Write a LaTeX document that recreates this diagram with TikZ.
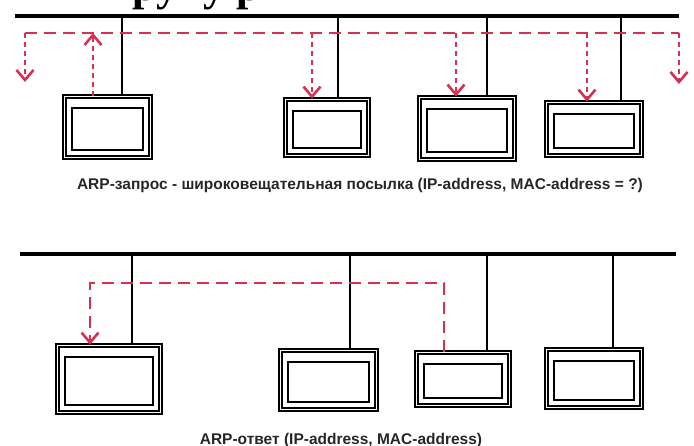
\documentclass[tikz,border=0pt]{standalone}
\usepackage{fontspec}
\setmainfont{Liberation Sans}
\newfontfamily\headfont{Liberation Serif}
\usepackage{xcolor}
\usetikzlibrary{arrows.meta,calc}
\definecolor{arpred}{RGB}{214,48,82}

\begin{document}
\begin{tikzpicture}[x=1pt, y=-1pt, device/.style={draw, double, double distance=1.4pt, line width=1.8pt, inner sep=0pt}, screen/.style={draw, line width=2.8pt, inner sep=0pt}, bus/.style={line width=3.4pt}, stub/.style={line width=2.8pt}, req/.style={draw=arpred, line width=2.8pt, dash pattern=on 12pt off 7pt}, tip/.style={-{Straight Barb[length=10pt,width=17pt,line width=2.6pt]}}, drop/.style={req, tip, dash pattern=on 5pt off 4pt}, caption/.style={font=\bfseries\fontsize{15.5}{17}\selectfont, text=black!85, inner sep=0pt}]
\useasboundingbox (0,0) rectangle (694,446);
\begin{scope}
\clip (0,0) rectangle (694,446);
\node[anchor=base west, inner sep=0pt, font=\headfont\bfseries\fontsize{44}{46}\selectfont] (heading) at (132,1) {рупу р};
\end{scope}
\foreach \n/\cx/\cy/\w/\h in {t1/107.5/127/91/66, t2/327/127.5/88/61, t3/467/128.5/100/67, t4/594/129/100/58, b1/109/379/108/72, b2/328.5/380/101/64, b3/463/379/98/58, b4/594/378.5/100/63}{
\node[device, minimum width=\w pt-5pt, minimum height=\h pt-5pt] (\n) at (\cx,\cy) {};
\node[screen, minimum width=\w pt-20pt, minimum height=\h pt-24pt] (\n-scr) at ($(\n)+(0,2)$) {};
}
\coordinate (topbusL) at (15,16);
\coordinate (topbusR) at (679,16);
\coordinate (botbusL) at (20,254);
\coordinate (botbusR) at (676,254);
\draw[bus] (topbusL) -- (topbusR);
\draw[bus] (botbusL) -- (botbusR);
\foreach \n/\sx in {t1/122, t2/338, t3/487, t4/621} \draw[stub] (\sx,0 |- topbusL) -- (\sx,0 |- \n.north);
\foreach \n/\sx in {b1/132, b2/350, b3/487, b4/613} \draw[stub] (\sx,0 |- botbusL) -- (\sx,0 |- \n.north);
\coordinate (reqL) at (25,33);
\coordinate (reqR) at (679,33);
\coordinate (lostL) at (25,82);
\coordinate (lostR) at (679,84);
\draw[req] (reqL) -- (reqR);
\draw[drop] (reqL) -- (lostL);
\draw[drop] (reqR) -- (lostR);
\draw[drop] (93,0 |- t1.north) -- (93,0 |- reqL);
\foreach \n/\ax in {t2/312, t3/456, t4/587} \draw[drop] (\ax,0 |- reqL) -- (\ax,0 |- \n.north);
\node[caption] (reqcap) at (360,185) {ARP-запрос - широковещательная посылка (IP-address, MAC-address = ?)};
\coordinate (repS) at (444,283);
\coordinate (repD) at (90,283);
\draw[req, tip] (repS |- b3.north) -- (repS) -- (repD) -- (repD |- b1.north);
\node[caption] (repcap) at (341,440) {ARP-ответ (IP-address, MAC-address)};
\end{tikzpicture}
\end{document}
